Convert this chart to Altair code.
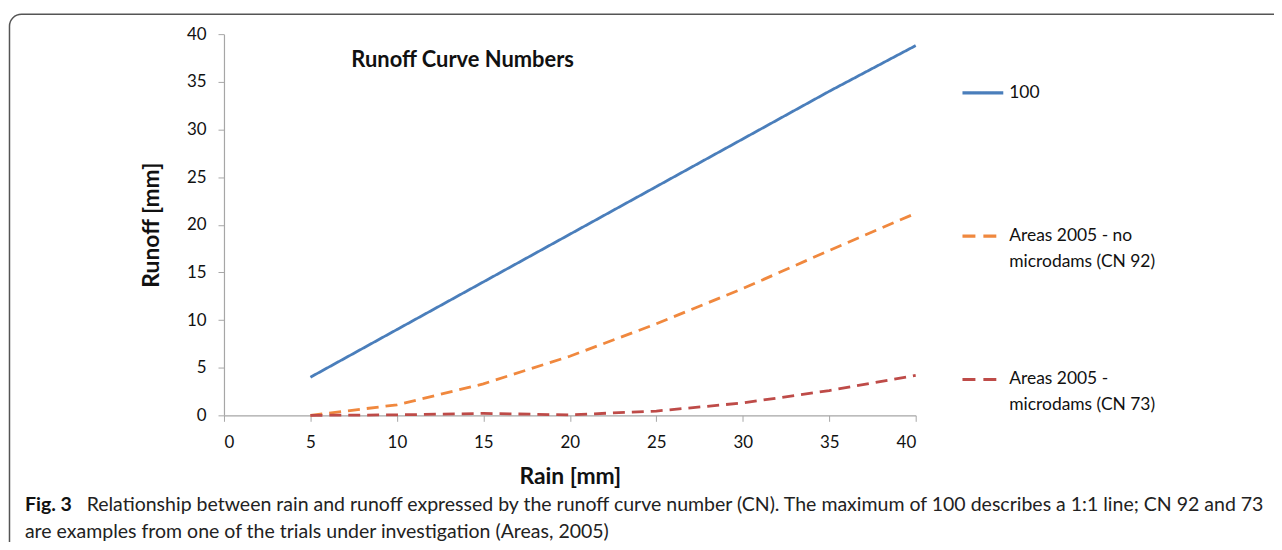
import altair as alt
import pandas as pd

rain = [5, 10, 15, 20, 25, 30, 35, 40]
cn100 = [4.0, 9.0, 14.0, 19.0, 24.0, 29.0, 34.0, 38.8]
cn92 = [0.0, 1.1, 3.3, 6.2, 9.6, 13.3, 17.3, 21.2]
cn73 = [0.0, 0.05, 0.2, 0.05, 0.45, 1.3, 2.6, 4.2]
series_names = ["100", "Areas 2005 - no microdams (CN 92)", "Areas 2005 - microdams (CN 73)"]
legend_lines = [["100"], ["Areas 2005 - no", "microdams (CN 92)"], ["Areas 2005 -", "microdams (CN 73)"]]
series_colors = ["#4A7EBB", "#F0883E", "#BE4B48"]
series_dash = [[1, 0], [13, 8], [13, 8]]

title_text = "Runoff Curve Numbers"
x_title = "Rain [mm]"
y_title = "Runoff [mm]"
caption_bold = "Fig. 3"
caption_line1 = "Relationship between rain and runoff expressed by the runoff curve number (CN). The maximum of 100 describes a 1:1 line; CN 92 and 73"
caption_line2 = "are examples from one of the trials under investigation (Areas, 2005)"

rows = []
for name, vals in zip(series_names, [cn100, cn92, cn73]):
    for r, v in zip(rain, vals):
        rows.append({"rain": r, "runoff": v, "series": name})
df = pd.DataFrame(rows)

FONT = "Lato"
W, H = 695, 383
PAD_L, PAD_T = 217, 25
TOTAL_W, TOTAL_H = 1272, 534
LEGEND_X, LEGEND_SYM_W, LEGEND_TEXT_X = 742, 41, 789
LEGEND_Y = [59, 203, 347]

ticks = [0, 5, 10, 15, 20, 25, 30, 35, 40]

lines = alt.Chart(df).mark_line(strokeWidth=2.8).encode(
    x=alt.X("rain:Q", title=x_title,
            scale=alt.Scale(domain=[0, 40], nice=False),
            axis=alt.Axis(values=ticks, grid=False,
                          tickSize=6, labelPadding=13, titlePadding=15)),
    y=alt.Y("runoff:Q", title=y_title,
            scale=alt.Scale(domain=[0, 40], nice=False),
            axis=alt.Axis(values=ticks, grid=False,
                          tickSize=6, labelPadding=12, titlePadding=23)),
    color=alt.Color("series:N", legend=None,
                    scale=alt.Scale(domain=series_names, range=series_colors)),
    strokeDash=alt.StrokeDash("series:N", legend=None,
                              scale=alt.Scale(domain=series_names,
                                              range=[[1, 0], [12, 7], [12, 7]])),
    order=alt.Order("rain:Q"),
)

one = pd.DataFrame({"k": [0]})

legend_layers = []
for name, lbl, col, dash, ly in zip(series_names, legend_lines, series_colors, series_dash, LEGEND_Y):
    legend_layers.append(
        alt.Chart(one).mark_rule(color=col, strokeDash=dash, strokeWidth=3.2).encode(
            x=alt.value(LEGEND_X), x2=alt.value(LEGEND_X + LEGEND_SYM_W), y=alt.value(ly)))
    legend_layers.append(
        alt.Chart(one).mark_text(
            text=lbl, font=FONT, fontSize=17.5, align="left", baseline="middle",
            lineHeight=26, color="#111").encode(
            x=alt.value(LEGEND_TEXT_X), y=alt.value(ly)))

title_mark = alt.Chart(one).mark_text(
    text=title_text, font=FONT, fontSize=22, fontWeight="bold", align="left",
    baseline="middle", color="#111").encode(x=alt.value(128), y=alt.value(26))

CAP_SIZE = 19.6
cap_b = alt.Chart(one).mark_text(
    text=caption_bold, font=FONT, fontSize=CAP_SIZE, fontWeight="bold", align="left",
    baseline="middle", color="#111").encode(x=alt.value(-200), y=alt.value(473))
cap_1 = alt.Chart(one).mark_text(
    text=caption_line1, font=FONT, fontSize=CAP_SIZE, align="left",
    baseline="middle", color="#222").encode(x=alt.value(-138), y=alt.value(473))
cap_2 = alt.Chart(one).mark_text(
    text=caption_line2, font=FONT, fontSize=CAP_SIZE, align="left",
    baseline="middle", color="#222").encode(x=alt.value(-200), y=alt.value(500))

border = alt.Chart(one).mark_rect(
    fill=None, fillOpacity=0, stroke="#555", strokeWidth=1.5, cornerRadius=12).encode(
    x=alt.value(-215.5), x2=alt.value(1070), y=alt.value(-20), y2=alt.value(540))

chart = alt.layer(border, lines, title_mark, cap_b, cap_1, cap_2, *legend_layers).properties(
    width=W, height=H,
    autosize=alt.AutoSizeParams(type="none"),
    padding={"left": PAD_L, "top": PAD_T, "right": TOTAL_W - PAD_L - W,
             "bottom": TOTAL_H - PAD_T - H},
).configure_view(stroke=None).configure_axis(
    domainColor="#A6A6A6", tickColor="#A6A6A6", labelFont=FONT, labelFontSize=17,
    labelColor="#111", titleFont=FONT, titleFontSize=23, titleFontWeight="bold",
    titleColor="#111", domainWidth=1.2,
)

chart.save("out.html", embed_options={"renderer": "svg", "actions": False})
